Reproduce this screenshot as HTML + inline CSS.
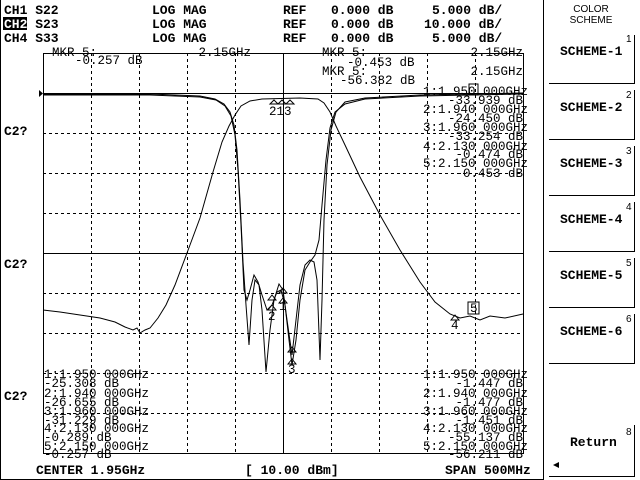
<!DOCTYPE html>
<html><head><style>
html,body{margin:0;padding:0;background:#fff;}
svg{display:block}
.b{font-family:"Liberation Mono",monospace;font-weight:bold;font-size:13px;fill:#000}
.t{font-family:"Liberation Mono",monospace;font-size:12.5px;fill:#000}
.s{font-family:"Liberation Sans",sans-serif;font-size:10px;fill:#000}
</style></head><body>
<svg width="640" height="480" viewBox="0 0 640 480" xmlns="http://www.w3.org/2000/svg">
<rect x="0" y="0" width="640" height="480" fill="#fff"/>
<line x1="0.5" y1="0" x2="0.5" y2="480" stroke="#000"/>
<line x1="543.5" y1="0" x2="543.5" y2="480" stroke="#000"/>
<line x1="0" y1="479.5" x2="543" y2="479.5" stroke="#000"/>
<rect x="3" y="17" width="24" height="13" fill="#000"/>
<text class="b" x="4" y="14">CH1 S22</text>
<text class="b" x="4" y="28"><tspan fill="#fff">CH2</tspan> S23</text>
<text class="b" x="4" y="42">CH4 S33</text>
<text class="b" x="152" y="14">LOG MAG</text>
<text class="b" x="152" y="28">LOG MAG</text>
<text class="b" x="152" y="42">LOG MAG</text>
<text class="b" x="283" y="14">REF</text>
<text class="b" x="283" y="28">REF</text>
<text class="b" x="283" y="42">REF</text>
<text class="b" x="331" y="14">0.000 dB</text>
<text class="b" x="331" y="28">0.000 dB</text>
<text class="b" x="331" y="42">0.000 dB</text>
<text class="b" x="432" y="14">5.000 dB/</text>
<text class="b" x="424" y="28">10.000 dB/</text>
<text class="b" x="432" y="42">5.000 dB/</text>
<text class="b" x="4" y="135">C2?</text>
<text class="b" x="4" y="268">C2?</text>
<text class="b" x="4" y="400">C2?</text>
<g stroke="#000" stroke-width="1" stroke-dasharray="3,3">
<line x1="91.5" y1="53" x2="91.5" y2="453"/><line x1="139.5" y1="53" x2="139.5" y2="453"/>
<line x1="187.5" y1="53" x2="187.5" y2="453"/><line x1="235.5" y1="53" x2="235.5" y2="453"/>
<line x1="331.5" y1="53" x2="331.5" y2="453"/><line x1="379.5" y1="53" x2="379.5" y2="453"/>
<line x1="427.5" y1="53" x2="427.5" y2="453"/><line x1="475.5" y1="53" x2="475.5" y2="453"/>
<line x1="43" y1="133.5" x2="523" y2="133.5"/><line x1="43" y1="173.5" x2="523" y2="173.5"/>
<line x1="43" y1="213.5" x2="523" y2="213.5"/><line x1="43" y1="293.5" x2="523" y2="293.5"/>
<line x1="43" y1="333.5" x2="523" y2="333.5"/><line x1="43" y1="373.5" x2="523" y2="373.5"/>
<line x1="43" y1="413.5" x2="523" y2="413.5"/>
</g>
<g stroke="#000" stroke-width="1" fill="none">
<rect x="43.5" y="53.5" width="480" height="400"/>
<line x1="283.5" y1="53" x2="283.5" y2="453"/>
<line x1="43" y1="93.5" x2="523" y2="93.5"/>
<line x1="43" y1="253.5" x2="523" y2="253.5"/>
</g>
<polygon points="39,90 39,97 43,93.5" fill="#000"/>
<g fill="none" stroke="#000" stroke-width="1">
<polyline points="43,310 60,312 80,315 100,318 115,322 125,327 133,330 137,328 140,333 145,330 150,328 158,318 166,305 175,285 187,253 200,218 213,172 222,142 229,126 235,115 241,106 250,101 262,99 300,98 318,99 324,103 330,112 336,126 345,145 360,177 380,215 400,250 420,282 435,302 450,314 460,318 470,316 480,320 490,316 505,318 523,314"/>
<polyline points="43,94 150,94 200,96 215,99 224,104 230,112 234,125 237,150 240,200 243,262 246,305 249,345 252,300 255,280 259,285 262,310 266,372 270,330 274,300 279,284 283,290 287,320 292,355 296,320 300,285 305,265 310,260 314,262 317,280 320,360 322,300 324,220 327,165 331,130 336,112 345,102 365,98 420,95 523,93"/>
<polyline points="43,95 150,95 200,97 216,100 225,106 231,116 235,135 238,170 241,225 244,290 247,300 250,290 254,275 258,282 262,295 267,310 272,305 277,292 281,290 285,305 289,340 292,365 296,340 300,300 305,270 310,262 315,255 319,240 322,205 326,160 330,128 335,112 345,104 365,99 420,96 523,94"/>
</g>
<g fill="none" stroke="#000" stroke-width="1">
<polygon points="270,104 274,100 278,104"/><polygon points="278,104 282,100 286,104"/><polygon points="286,104 290,100 294,104"/>
<polygon points="268,300 272,295 276,300"/><polygon points="268,310 272,305 276,310"/>
<polygon points="279,293 283,288 287,293"/><polygon points="279,303 283,298 287,303"/>
<polygon points="288,352 292,347 296,352"/><polygon points="288,364 292,359 296,364"/>
<polygon points="451,320 455,315 459,320"/>
<rect x="468" y="302" width="11" height="12"/>
<rect x="469" y="84" width="9" height="11"/>
</g>
<text class="t" x="269" y="115">213</text>
<text class="t" x="268" y="320" font-size="11">2</text>
<text class="t" x="279" y="310" font-size="11">1</text>
<text class="t" x="288" y="373" font-size="11">3</text>
<text class="t" x="451" y="329" font-size="11">4</text>
<text class="t" x="470" y="312" font-size="11">5</text>
<text class="t" x="52" y="56">MKR  5:</text>
<text class="t" x="251" y="56" text-anchor="end">2.15GHz</text>
<text class="t" x="75" y="64">-0.257 dB</text>
<text class="t" x="322" y="56">MKR  5:</text>
<text class="t" x="523" y="56" text-anchor="end">2.15GHz</text>
<text class="t" x="347" y="66">-0.453 dB</text>
<text class="t" x="322" y="75">MKR  5:</text>
<text class="t" x="523" y="75" text-anchor="end">2.15GHz</text>
<text class="t" x="340" y="84">-56.382 dB</text>
<g class="t" text-anchor="end">
<text x="528" y="95">1:1.950 000GHz</text>
<text x="523" y="104">-33.939 dB</text>
<text x="528" y="113">2:1.940 000GHz</text>
<text x="523" y="122">-24.450 dB</text>
<text x="528" y="131">3:1.960 000GHz</text>
<text x="523" y="140">-33.254 dB</text>
<text x="528" y="150">4:2.130 000GHz</text>
<text x="523" y="158">-0.474 dB</text>
<text x="528" y="167">5:2.150 000GHz</text>
<text x="523" y="177">-0.453 dB</text>
<text x="528" y="378">1:1.950 000GHz</text>
<text x="523" y="387">-1.447 dB</text>
<text x="528" y="397">2:1.940 000GHz</text>
<text x="523" y="406">-1.477 dB</text>
<text x="528" y="415">3:1.960 000GHz</text>
<text x="523" y="424">-1.451 dB</text>
<text x="528" y="432">4:2.130 000GHz</text>
<text x="523" y="441">-55.137 dB</text>
<text x="528" y="450">5:2.150 000GHz</text>
<text x="523" y="458">-56.211 dB</text>
</g>
<g class="t">
<text x="44" y="378">1:1.950 000GHz</text>
<text x="44" y="387">-25.308 dB</text>
<text x="44" y="397">2:1.940 000GHz</text>
<text x="44" y="406">-26.655 dB</text>
<text x="44" y="415">3:1.960 000GHz</text>
<text x="44" y="424">-31.229 dB</text>
<text x="44" y="432">4:2.130 000GHz</text>
<text x="44" y="441"> -0.289 dB</text>
<text x="44" y="450">5:2.150 000GHz</text>
<text x="44" y="458"> -0.257 dB</text>
</g>
<text class="b" x="36" y="474">CENTER 1.95GHz</text>
<text class="b" x="245" y="474">[ 10.00 dBm]</text>
<text class="b" x="445" y="474">SPAN 500MHz</text>
<text class="s" x="591" y="12" text-anchor="middle">COLOR</text>
<text class="s" x="591" y="23" text-anchor="middle">SCHEME</text>
<g stroke="#000" stroke-width="1" fill="none">
<polyline points="549,83.5 634.5,83.5 634.5,35"/>
<polyline points="549,139.5 634.5,139.5 634.5,90"/>
<polyline points="549,195.5 634.5,195.5 634.5,146"/>
<polyline points="549,251.5 634.5,251.5 634.5,202"/>
<polyline points="549,307.5 634.5,307.5 634.5,258"/>
<polyline points="549,363.5 634.5,363.5 634.5,314"/>
<polyline points="549,476.5 634.5,476.5 634.5,425"/>
</g>
<g class="b" font-size="12">
<text x="560" y="55">SCHEME-1</text>
<text x="560" y="111">SCHEME-2</text>
<text x="560" y="167">SCHEME-3</text>
<text x="560" y="223">SCHEME-4</text>
<text x="560" y="279">SCHEME-5</text>
<text x="560" y="335">SCHEME-6</text>
<text x="570" y="446">Return</text>
</g>
<g class="s" font-size="8">
<text x="626" y="42">1</text><text x="626" y="98">2</text><text x="626" y="154">3</text>
<text x="626" y="210">4</text><text x="626" y="266">5</text><text x="626" y="322">6</text>
<text x="626" y="435">8</text>
</g>
<polygon points="553,465 559,462 559,468" fill="#000"/>
</svg>
</body></html>
